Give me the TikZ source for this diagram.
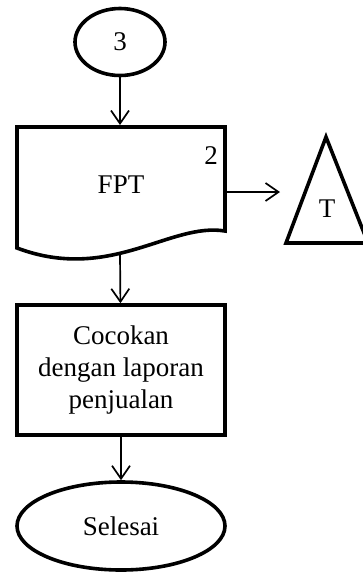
\documentclass[tikz,border=0pt]{standalone}
\usepackage{fontspec}
\setmainfont{Liberation Serif}
\usetikzlibrary{shapes.geometric,arrows.meta}

\begin{document}
\begin{tikzpicture}[x=1pt,y=-1pt, >={Straight Barb[length=13pt,width=18pt]},
    font=\fontsize{27}{32}\selectfont,
    thickline/.style={line width=3.6pt},
    flow/.style={->,line width=1.7pt}]
    \useasboundingbox (0,0) rectangle (363,573);
    \node[ellipse,draw,thickline,minimum width=90,minimum height=67,inner sep=0] (con) at (120,42) {3};
    % dokumen FPT
    \draw[thickline] (17,127) -- (225,127) -- (225,231)
        .. controls (170,222) and (110,283) .. (17,248) -- cycle;
    \coordinate (doctop) at (120,125);
    \coordinate (docbot) at (120,253);
    \coordinate (docright) at (227,192);
    \node (fpt) at (121,185) {FPT};
    \node (nomor) at (211,156) {2};
    % arsip
    \draw[thickline] (326,137) -- (286,243) -- (368,243) -- cycle;
    \node (arsip) at (327,209) {T};
    \coordinate (arsipin) at (280,192);
    \node[draw,thickline,minimum width=208,minimum height=130,align=center] (cocok) at (121,370)
        {Cocokan\\dengan laporan\\penjualan};
    \node[ellipse,draw,thickline,minimum width=208,minimum height=88,inner sep=0] (selesai) at (121,526) {Selesai};
    \draw[flow] (con) -- (doctop);
    \draw[flow] (docright) -- (arsipin);
    \draw[flow] (docbot) -- (cocok);
    \draw[flow] (cocok) -- (selesai);
\end{tikzpicture}
\end{document}
